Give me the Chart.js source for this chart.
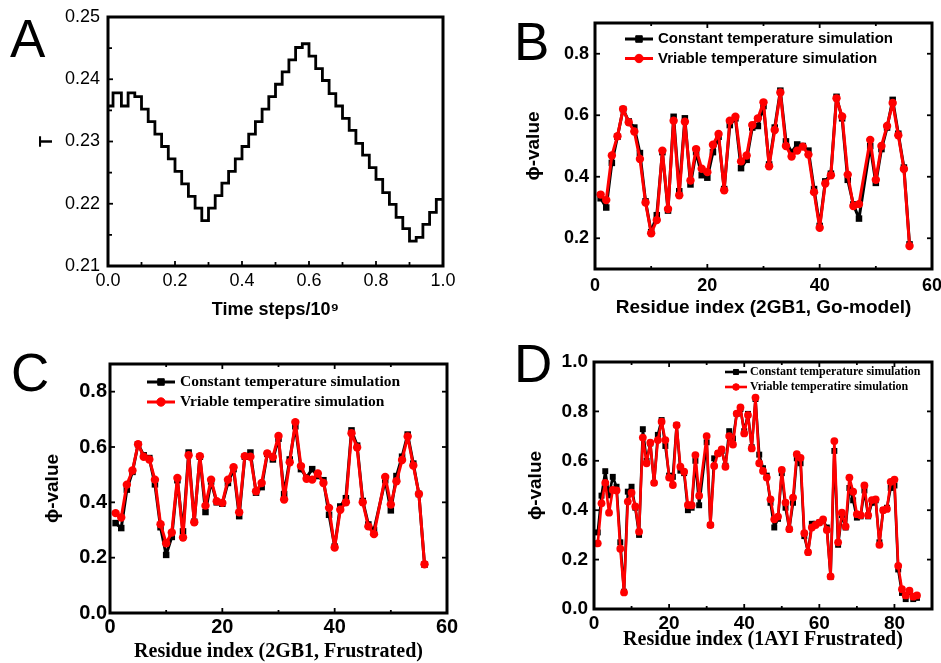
<!DOCTYPE html>
<html><head><meta charset="utf-8">
<script src="https://cdn.jsdelivr.net/npm/chart.js@4.4.0/dist/chart.umd.min.js"></script>
<style>
html,body{margin:0;padding:0;background:#fff;}
body{width:941px;height:663px;position:relative;overflow:hidden;}
canvas{position:absolute;}
.lbl{position:absolute;font-family:"Liberation Sans",Arial,sans-serif;font-size:53px;line-height:53px;color:#000;}
</style></head><body>
<canvas id="cA" width="470" height="330" style="left:0;top:0"></canvas>
<canvas id="cB" width="471" height="330" style="left:470px;top:0"></canvas>
<canvas id="cC" width="470" height="333" style="left:0;top:330px"></canvas>
<canvas id="cD" width="471" height="333" style="left:470px;top:330px"></canvas>
<div class="lbl" style="left:10px;top:12px">A</div>
<div class="lbl" style="left:514px;top:15px">B</div>
<div class="lbl" style="left:11px;top:346px">C</div>
<div class="lbl" style="left:514px;top:337px">D</div>
<script>
// ---------- Panel A data ----------
const A_TIME = [0,0.015,0.04,0.06,0.08,0.10,0.12,0.14,0.16,0.18,0.20,0.22,0.24,0.26,0.28,0.30,0.32,0.34,0.36,0.38,0.40,0.42,0.44,0.46,0.48,0.50,0.52,0.54,0.56,0.58,0.60,0.62,0.64,0.66,0.68,0.70,0.72,0.74,0.76,0.78,0.80,0.82,0.84,0.86,0.88,0.90,0.92,0.94,0.96,0.98,1.00];
const A_T = [0.2357,0.2378,0.2357,0.2378,0.2372,0.2352,0.2332,0.2312,0.2292,0.2272,0.2252,0.2232,0.2212,0.2193,0.2173,0.2193,0.2213,0.2233,0.2252,0.2272,0.2292,0.2312,0.2332,0.2352,0.2372,0.2392,0.2412,0.2431,0.2451,0.2457,0.2437,0.2417,0.2398,0.2377,0.2357,0.2337,0.2318,0.2297,0.2278,0.2258,0.2239,0.2218,0.2199,0.2178,0.2160,0.2140,0.2146,0.2167,0.2186,0.2207,0.2207];
const A_X_TICKS = [0,0.2,0.4,0.6,0.8,1.0];
const A_X_MINOR = [0.1,0.3,0.5,0.7,0.9];
const A_Y_TICKS = [0.21,0.22,0.23,0.24,0.25];
const A_Y_MINOR = [0.215,0.225,0.235,0.245];

// ---------- Panel B data ----------
const B_RES = [1,2,3,4,5,6,7,8,9,10,11,12,13,14,15,16,17,18,19,20,21,22,23,24,25,26,27,28,29,30,31,32,33,34,35,36,37,38,39,40,41,42,43,44,45,46,47,49,50,51,52,53,54,55,56];
const B_CONST = [0.33,0.30,0.445,0.53,0.62,0.58,0.56,0.477,0.32,0.22,0.275,0.48,0.29,0.595,0.353,0.59,0.375,0.48,0.405,0.397,0.48,0.53,0.36,0.568,0.59,0.428,0.455,0.56,0.565,0.63,0.44,0.56,0.68,0.515,0.48,0.505,0.50,0.485,0.36,0.24,0.385,0.41,0.66,0.59,0.39,0.31,0.264,0.50,0.38,0.49,0.56,0.65,0.54,0.43,0.18];
const B_VAR = [0.342,0.324,0.469,0.532,0.62,0.577,0.547,0.458,0.316,0.216,0.259,0.485,0.295,0.582,0.34,0.579,0.388,0.49,0.426,0.415,0.504,0.539,0.356,0.582,0.595,0.45,0.469,0.568,0.59,0.642,0.434,0.552,0.674,0.50,0.466,0.485,0.498,0.472,0.35,0.234,0.378,0.405,0.655,0.596,0.407,0.305,0.311,0.52,0.39,0.50,0.565,0.64,0.535,0.425,0.175];
const B_X_TICKS = [0,20,40,60];
const B_X_MINOR = [10,30,50];
const B_Y_TICKS = [0.2,0.4,0.6,0.8];

// ---------- Panel C data ----------
const C_RES = [1,2,3,4,5,6,7,8,9,10,11,12,13,14,15,16,17,18,19,20,21,22,23,24,25,26,27,28,29,30,31,32,33,34,35,36,37,38,39,40,41,42,43,44,45,46,47,49,50,51,52,53,54,55,56];
const C_CONST = [0.325,0.307,0.446,0.51,0.61,0.57,0.56,0.465,0.31,0.21,0.275,0.48,0.295,0.58,0.33,0.565,0.365,0.475,0.40,0.395,0.47,0.52,0.35,0.565,0.58,0.435,0.455,0.575,0.555,0.63,0.43,0.555,0.675,0.52,0.49,0.52,0.495,0.48,0.355,0.24,0.385,0.415,0.66,0.605,0.405,0.32,0.30,0.48,0.371,0.495,0.565,0.645,0.54,0.43,0.175];
const C_VAR = [0.361,0.345,0.464,0.515,0.61,0.565,0.555,0.482,0.321,0.252,0.291,0.488,0.273,0.57,0.328,0.567,0.388,0.482,0.404,0.398,0.482,0.527,0.364,0.567,0.565,0.44,0.47,0.577,0.564,0.64,0.41,0.545,0.69,0.531,0.485,0.482,0.504,0.47,0.38,0.237,0.373,0.40,0.65,0.598,0.40,0.313,0.285,0.492,0.392,0.476,0.553,0.638,0.533,0.43,0.176];
const C_X_TICKS = [0,20,40,60];
const C_X_MINOR = [10,30,50];
const C_Y_TICKS = [0.0,0.2,0.4,0.6,0.8];

// ---------- Panel D data ----------
const D_RES = [1,2,3,4,5,6,7,8,9,10,11,12,13,14,15,16,17,18,19,20,21,22,23,24,25,26,27,28,30,31,32,33,34,35,36,37,38,39,40,41,42,43,44,45,46,47,48,49,50,51,52,53,54,55,56,57,58,59,60,61,62,63,64,65,66,67,68,69,70,71,72,73,74,75,76,77,78,79,80,81,82,83,84,85,86];
const D_CONST = [0.31,0.459,0.558,0.46,0.535,0.495,0.27,0.07,0.475,0.495,0.41,0.30,0.728,0.60,0.67,0.51,0.705,0.765,0.66,0.54,0.535,0.745,0.56,0.55,0.40,0.41,0.60,0.42,0.675,0.34,0.61,0.63,0.64,0.58,0.72,0.69,0.79,0.81,0.72,0.79,0.655,0.85,0.625,0.57,0.54,0.43,0.33,0.365,0.55,0.41,0.325,0.43,0.61,0.59,0.295,0.23,0.345,0.345,0.35,0.36,0.33,0.13,0.64,0.26,0.38,0.33,0.49,0.44,0.37,0.375,0.48,0.375,0.43,0.44,0.27,0.40,0.41,0.49,0.50,0.16,0.065,0.04,0.07,0.04,0.045];
const D_VAR = [0.266,0.428,0.511,0.39,0.482,0.48,0.244,0.067,0.435,0.471,0.415,0.313,0.694,0.59,0.673,0.511,0.684,0.758,0.684,0.532,0.502,0.744,0.576,0.556,0.421,0.42,0.623,0.459,0.70,0.34,0.579,0.63,0.646,0.576,0.70,0.666,0.791,0.816,0.711,0.785,0.65,0.856,0.59,0.559,0.532,0.444,0.363,0.374,0.563,0.431,0.323,0.451,0.627,0.612,0.307,0.23,0.33,0.34,0.35,0.363,0.32,0.132,0.68,0.27,0.39,0.334,0.532,0.475,0.384,0.38,0.50,0.38,0.441,0.444,0.26,0.40,0.405,0.515,0.524,0.175,0.08,0.055,0.074,0.05,0.055];
const D_X_TICKS = [0,20,40,60,80];
const D_X_MINOR = [10,30,50,70,90];
const D_Y_TICKS = [0.0,0.2,0.4,0.6,0.8,1.0];

const SANS = '"Liberation Sans", Arial, sans-serif';
const SERIF = '"Liberation Serif", "Times New Roman", serif';

// ---------- plugins ----------
const frameTicks = {
  id: 'frameTicks',
  afterDatasetsDraw(chart, args, o) {
    const ctx = chart.ctx, a = chart.chartArea;
    const xs = chart.scales.x, ys = chart.scales.y;
    ctx.save();
    ctx.strokeStyle = '#000';
    ctx.lineWidth = 1.8;
    const sides = o.sides || [];
    const mark = (vals, len, isX) => {
      vals.forEach(v => {
        if (isX) {
          const px = xs.getPixelForValue(v);
          if (sides.includes('bottom')) { ctx.beginPath(); ctx.moveTo(px, a.bottom); ctx.lineTo(px, a.bottom - len); ctx.stroke(); }
          if (sides.includes('top')) { ctx.beginPath(); ctx.moveTo(px, a.top); ctx.lineTo(px, a.top + len); ctx.stroke(); }
        } else {
          const py = ys.getPixelForValue(v);
          if (sides.includes('left')) { ctx.beginPath(); ctx.moveTo(a.left, py); ctx.lineTo(a.left + len, py); ctx.stroke(); }
          if (sides.includes('right')) { ctx.beginPath(); ctx.moveTo(a.right, py); ctx.lineTo(a.right - len, py); ctx.stroke(); }
        }
      });
    };
    mark(o.xMajor || [], o.majLen, true);
    mark(o.xMinor || [], o.minLen, true);
    mark(o.yMajor || [], o.majLen, false);
    mark(o.yMinor || [], o.minLen, false);
    ctx.lineWidth = o.frameWidth || 3;
    ctx.strokeRect(a.left, a.top, a.right - a.left, a.bottom - a.top);
    ctx.restore();
  }
};

const insideLegend = {
  id: 'insideLegend',
  afterDraw(chart, args, o) {
    if (!o || !o.show) return;
    const ctx = chart.ctx;
    ctx.save();
    chart.data.datasets.forEach((ds, i) => {
      const y = o.y + i * o.rowH;
      ctx.strokeStyle = ds.borderColor;
      ctx.lineWidth = ds.borderWidth;
      ctx.beginPath(); ctx.moveTo(o.x, y); ctx.lineTo(o.x + o.lineLen, y); ctx.stroke();
      ctx.fillStyle = ds.backgroundColor;
      ctx.lineWidth = 1;
      Chart.helpers.drawPoint(ctx, {pointStyle: ds.pointStyle, radius: ds.pointRadius * (o.markScale || 1), borderWidth: 1, rotation: 0}, o.x + o.lineLen / 2, y);
      ctx.fillStyle = '#000';
      ctx.font = o.font;
      ctx.textBaseline = 'middle';
      ctx.textAlign = 'left';
      ctx.fillText(ds.label, o.x + o.lineLen + o.gap, y);
    });
    ctx.restore();
  }
};

function xScale(p) {
  return {
    type: 'linear', position: 'bottom', min: p.min, max: p.max,
    grid: {display: false, drawTicks: false}, border: {display: false},
    ticks: {font: p.tickFont, color: '#000', padding: p.tickPad, autoSkip: false, maxRotation: 0, callback: p.fmt},
    title: {display: true, text: p.title, font: p.titleFont, color: '#000', padding: 0},
    afterBuildTicks(s) { s.ticks = p.ticks.map(v => ({value: v})); },
    afterFit(s) { s.height = p.size; s.paddingLeft = 0; s.paddingRight = 0; }
  };
}
function yScale(p) {
  return {
    type: 'linear', position: 'left', min: p.min, max: p.max,
    grid: {display: false, drawTicks: false}, border: {display: false},
    ticks: {font: p.tickFont, color: '#000', padding: p.tickPad, autoSkip: false, callback: p.fmt},
    title: {display: true, text: p.title, font: p.titleFont, color: '#000', padding: 0},
    afterBuildTicks(s) { s.ticks = p.ticks.map(v => ({value: v})); },
    afterFit(s) { s.width = p.size; s.paddingTop = 0; s.paddingBottom = 0; }
  };
}
function pts(xs, ys) { return xs.map((x, i) => ({x: x, y: ys[i]})); }
function pairSets(res, c, v, varLabel, lw, rs, rc) {
  return [
    {label: 'Constant temperature simulation', data: pts(res, c), borderColor: '#000', backgroundColor: '#000',
     borderWidth: lw, borderJoinStyle: 'round', pointStyle: 'rect', pointRadius: rs, pointBorderWidth: 0, order: 1},
    {label: varLabel, data: pts(res, v), borderColor: '#ff0000', backgroundColor: '#ff0000',
     borderWidth: lw, borderJoinStyle: 'round', pointStyle: 'circle', pointRadius: rc, pointBorderWidth: 0, order: 0}
  ];
}
function base(padding, scales, plugins) {
  return {
    responsive: false, maintainAspectRatio: false, animation: false, devicePixelRatio: 1, events: [],
    layout: {padding: padding},
    scales: scales,
    plugins: Object.assign({legend: {display: false}, tooltip: {enabled: false}}, plugins)
  };
}
const f1 = v => Number(v).toFixed(1);
const f2 = v => Number(v).toFixed(2);
const f0 = v => String(Math.round(v));

// ---------- Chart A ----------
new Chart(document.getElementById('cA'), {
  type: 'line',
  data: {datasets: [{label: 'T', data: pts(A_TIME, A_T), stepped: true, borderColor: '#000', borderWidth: 2.8, pointRadius: 0, fill: false}]},
  options: base({left: 36, top: 17, right: 27, bottom: 9}, {
    x: xScale({min: 0, max: 1, ticks: A_X_TICKS, fmt: f1, tickPad: 4, size: 55,
      tickFont: {family: SANS, size: 18}, title: 'Time steps/10\u2079', titleFont: {family: SANS, size: 18, weight: 'bold'}}),
    y: yScale({min: 0.21, max: 0.25, ticks: A_Y_TICKS, fmt: f2, tickPad: 8, size: 72,
      tickFont: {family: SANS, size: 18}, title: 'T', titleFont: {family: SANS, size: 18, weight: 'bold'}})
  }, {frameTicks: {sides: ['left', 'bottom'], xMajor: A_X_TICKS, xMinor: A_X_MINOR, yMajor: A_Y_TICKS, yMinor: A_Y_MINOR, majLen: 5, minLen: 4, frameWidth: 3}}),
  plugins: [frameTicks]
});

// ---------- Chart B ----------
new Chart(document.getElementById('cB'), {
  type: 'line',
  data: {datasets: pairSets(B_RES, B_CONST, B_VAR, 'Vriable temperature simulation', 3, 4.6, 4.2)},
  options: base({left: 52, top: 23, right: 9, bottom: 11}, {
    x: xScale({min: 0, max: 60, ticks: B_X_TICKS, fmt: f0, tickPad: 6, size: 50,
      tickFont: {family: SANS, size: 18, weight: 'bold'}, title: 'Residue index (2GB1, Go-model)', titleFont: {family: SANS, size: 19, weight: 'bold'}}),
    y: yScale({min: 0.1, max: 0.9, ticks: B_Y_TICKS, fmt: f1, tickPad: 6, size: 73,
      tickFont: {family: SANS, size: 18, weight: 'bold'}, title: '\u03D5-value', titleFont: {family: SANS, size: 19, weight: 'bold'}})
  }, {
    frameTicks: {sides: ['left', 'bottom', 'right', 'top'], xMajor: B_X_TICKS, xMinor: B_X_MINOR, yMajor: B_Y_TICKS, majLen: 5, minLen: 3, frameWidth: 3},
    insideLegend: {show: true, x: 155, y: 39, rowH: 19.5, lineLen: 28, gap: 5, font: 'bold 15px ' + SANS}
  }),
  plugins: [frameTicks, insideLegend]
});

// ---------- Chart C ----------
new Chart(document.getElementById('cC'), {
  type: 'line',
  data: {datasets: pairSets(C_RES, C_CONST, C_VAR, 'Vriable temperatire simulation', 3, 4.6, 4.2)},
  options: base({left: 41, top: 34, right: 23, bottom: 1}, {
    x: xScale({min: 0, max: 60, ticks: C_X_TICKS, fmt: f0, tickPad: 2, size: 49,
      tickFont: {family: SANS, size: 20, weight: 'bold'}, title: 'Residue index (2GB1, Frustrated)', titleFont: {family: SERIF, size: 20, weight: 'bold', lineHeight: 1}}),
    y: yScale({min: 0, max: 0.9, ticks: C_Y_TICKS, fmt: f1, tickPad: 3, size: 69,
      tickFont: {family: SANS, size: 20, weight: 'bold'}, title: '\u03D5-value', titleFont: {family: SANS, size: 19, weight: 'bold'}})
  }, {
    frameTicks: {sides: ['left', 'bottom', 'right', 'top'], xMajor: C_X_TICKS, xMinor: C_X_MINOR, yMajor: C_Y_TICKS, majLen: 5, minLen: 3, frameWidth: 3},
    insideLegend: {show: true, x: 147, y: 52, rowH: 20, lineLen: 28, gap: 5, font: 'bold 15.5px ' + SERIF}
  }),
  plugins: [frameTicks, insideLegend]
});

// ---------- Chart D ----------
new Chart(document.getElementById('cD'), {
  type: 'line',
  data: {datasets: pairSets(D_RES, D_CONST, D_VAR, 'Vriable temperatire simulation', 2.6, 4.2, 3.9)},
  options: base({left: 54, top: 32, right: 9, bottom: 11}, {
    x: xScale({min: 0, max: 90, ticks: D_X_TICKS, fmt: f0, tickPad: 3, size: 43,
      tickFont: {family: SANS, size: 19, weight: 'bold'}, title: 'Residue index (1AYI Frustrated)', titleFont: {family: SERIF, size: 20, weight: 'bold'}}),
    y: yScale({min: 0, max: 1.0, ticks: D_Y_TICKS, fmt: f1, tickPad: 6, size: 70,
      tickFont: {family: SANS, size: 19, weight: 'bold'}, title: '\u03D5-value', titleFont: {family: SANS, size: 19, weight: 'bold'}})
  }, {
    frameTicks: {sides: ['left', 'bottom', 'right', 'top'], xMajor: D_X_TICKS, xMinor: D_X_MINOR, yMajor: D_Y_TICKS, majLen: 5, minLen: 3, frameWidth: 3},
    insideLegend: {show: true, x: 255, y: 42, rowH: 15, lineLen: 22, gap: 3, font: 'bold 12px ' + SERIF, markScale: 0.85}
  }),
  plugins: [frameTicks, insideLegend]
});
</script>
</body></html>
